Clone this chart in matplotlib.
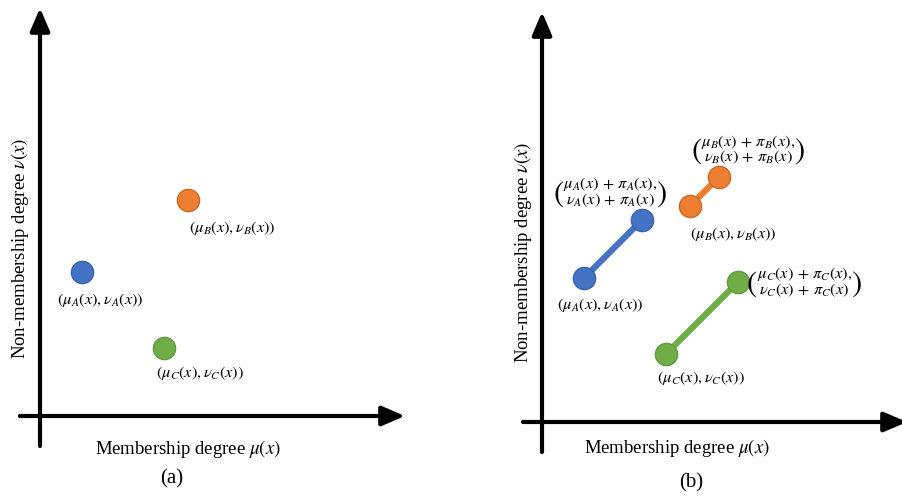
import matplotlib
matplotlib.use("Agg")
import matplotlib.pyplot as plt

plt.rcParams["font.family"] = ["Liberation Serif", "DejaVu Serif"]
plt.rcParams["mathtext.fontset"] = "stix"

# Intuitionistic fuzzy values for the three elements
names = ["A", "B", "C"]
mu = [0.105, 0.37, 0.31]     # membership degree
nu = [0.36, 0.54, 0.17]      # non-membership degree
hesitancy = [0.145, 0.073, 0.18]  # pi = hesitancy degree
colors = ["#4472C4", "#ED7D31", "#70AD47"]
edge_colors = ["#3a62ad", "#c9692a", "#5f9a3b"]

W, H = 902, 500
UNIT = 400.0  # pixels per unit on both axes

fig = plt.figure(figsize=(W / 100, H / 100), dpi=100)


def make_axes(x0_px, x1_px, origin_px):
    ox, oy = origin_px
    ax = fig.add_axes([x0_px / W, 0, (x1_px - x0_px) / W, 1])
    ax.set_xlim((x0_px - ox) / UNIT, (x1_px - ox) / UNIT)
    ax.set_ylim((oy - H) / UNIT, oy / UNIT)
    ax.set_axis_off()
    return ax


def draw_frame(ax, x_start, x_tip, y_start, y_tip):
    arrow = dict(arrowstyle="-|>,head_length=0.7,head_width=0.3",
                 lw=3, color="black", shrinkA=0, shrinkB=0,
                 mutation_scale=20)
    ax.annotate("", xy=(x_tip, 0), xytext=(x_start, 0),
                arrowprops=arrow, annotation_clip=False)
    ax.annotate("", xy=(0, y_tip), xytext=(0, y_start),
                arrowprops=arrow, annotation_clip=False)


def point_label(i):
    n = names[i]
    return rf"$(\mu_{n}(x),\nu_{n}(x))$"


def shifted_label(i):
    n = names[i]
    return (rf"$\mu_{n}(x)\,+\,\pi_{n}(x),$" "\n"
            rf"$\nu_{n}(x)\,+\,\pi_{n}(x)$")


label_fs = 11.8
stacked_fs = 11.8
axis_fs = 13.5

# ---------- panel (a) ----------
ax_a = make_axes(0, 451, (40, 416))
draw_frame(ax_a, -0.05, 0.9125, -0.075, 1.02)
offsets_a = [(13, -20), (32, -20), (26, -18)]
for i in range(3):
    ax_a.plot(mu[i], nu[i], "o", ms=16, color=colors[i],
              mec=edge_colors[i], mew=1, zorder=3)
    ax_a.annotate(point_label(i), (mu[i], nu[i]), xytext=offsets_a[i],
                  textcoords="offset points", ha="center", va="center",
                  fontsize=label_fs)
ax_a.text(0.37, -0.083, r"Membership degree $\mu(x)$", ha="center",
          va="center", fontsize=axis_fs)
ax_a.text(-0.05, 0.42, r"Non-membership degree $\nu(x)$", ha="center",
          va="center", rotation=90, fontsize=axis_fs)
ax_a.text(0.33, -0.1575, "(a)", ha="center", va="center", fontsize=15)

# ---------- panel (b) ----------
ax_b = make_axes(451, 902, (542, 422))
draw_frame(ax_b, -0.0475, 0.9125, -0.075, 1.025)
low_offsets = [(12, -19.5), (31, -20), (25, -17)]
high_offsets = [(-23, 20), (21, 19.5), (13.5, 0)]
high_ha = ["center", "center", "left"]
stacked = []
for i in range(3):
    x0, y0 = mu[i], nu[i]
    x1, y1 = mu[i] + hesitancy[i], nu[i] + hesitancy[i]
    ax_b.plot([x0, x1], [y0, y1], "-", lw=4.5, color=colors[i],
              solid_capstyle="butt", zorder=2)
    ax_b.plot([x0, x1], [y0, y1], "o", ms=16, color=colors[i],
              mec=edge_colors[i], mew=1, zorder=3)
    ax_b.annotate(point_label(i), (x0, y0), xytext=low_offsets[i],
                  textcoords="offset points", ha="center", va="center",
                  fontsize=label_fs)
    t = ax_b.annotate(shifted_label(i), (x1, y1), xytext=high_offsets[i],
                      textcoords="offset points", ha=high_ha[i],
                      va="center", multialignment="center",
                      linespacing=0.85, fontsize=stacked_fs)
    stacked.append(t)
ax_b.text(0.3375, -0.065, r"Membership degree $\mu(x)$", ha="center",
          va="center", fontsize=axis_fs)
ax_b.text(-0.0475, 0.425, r"Non-membership degree $\nu(x)$", ha="center",
          va="center", rotation=90, fontsize=axis_fs)
ax_b.text(0.3725, -0.1525, "(b)", ha="center", va="center", fontsize=15)

# tall parentheses enclosing each two-line coordinate label
fig.canvas.draw()
renderer = fig.canvas.get_renderer()
for t in stacked:
    bb = t.get_window_extent(renderer)
    ymid = (bb.y0 + bb.y1) / 2 + 2
    fig.text((bb.x0 + 1) / W, ymid / H, r"$($", ha="right",
             va="center_baseline", fontsize=22)
    fig.text((bb.x1 - 1) / W, ymid / H, r"$)$", ha="left",
             va="center_baseline", fontsize=22)

fig.savefig("out.png", dpi=100)
